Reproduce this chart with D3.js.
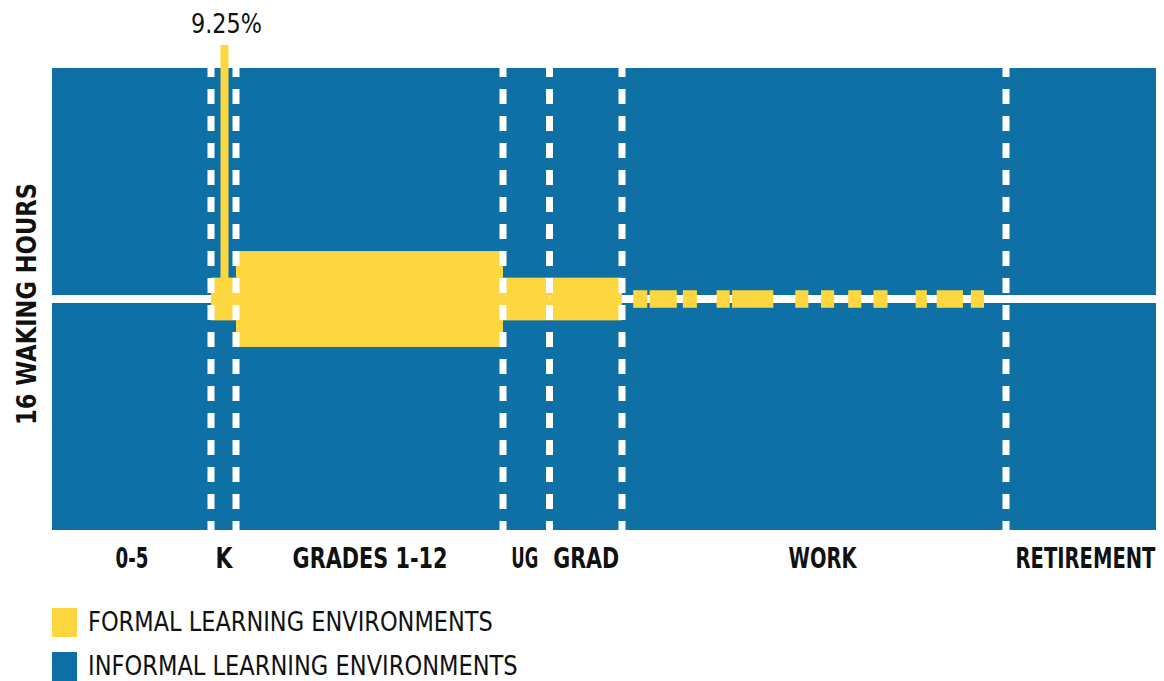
<!DOCTYPE html>
<html>
<head>
<meta charset="utf-8">
<script src="https://cdn.jsdelivr.net/npm/d3@7"></script>
<style>
  body { margin: 0; background: #fff; }
  text { font-family: "DejaVu Sans", "Noto Sans", sans-serif; }
</style>
</head>
<body>
<div id="chart"></div>
<script>
// life stages and the ages where they start / end
const stages = ["0-5", "K", "GRADES 1-12", "UG", "GRAD", "WORK", "RETIREMENT"];
const stageAges = [0, 5, 6, 18, 22, 24, 65, 80];

// share of the 16 waking hours spent in formal learning (%), per stage
const formalShare = [0, 9.25, 20.75, 9.25, 9.25, 0, 0];

// short formal-learning episodes during work (start age, end age)
const workEpisodes = [
    [25.2, 26.7], [26.95, 29.85], [30.5, 32.0], [34.1, 35.5], [35.75, 40.15],
    [42.5, 43.9], [45.25, 46.65], [48.15, 49.55], [50.85, 52.35],
    [55.35, 56.55], [57.6, 60.4], [61.25, 62.65]
];
const workShare = 3.8;

const peakLabel = "9.25%";
const yTitle = "16 WAKING HOURS";
const legendItems = ["FORMAL LEARNING ENVIRONMENTS", "INFORMAL LEARNING ENVIRONMENTS"];

(function () {
    const width = 1164;
    const height = 681;
    const blue = "#0f70a6";
    const yellow = "#fdd740";
    const ink = "#111";

    const svg = d3.select("#chart")
        .append("svg")
        .attr("width", width)
        .attr("height", height);

    // stages are not drawn to a common age scale, so each boundary gets its own spot
    const x = d3.scaleLinear()
        .domain(stageAges)
        .range([52, 211, 236, 503, 549.5, 622, 1006, 1156]);

    const y = d3.scaleLinear()
        .domain([-50, 50])
        .range([530, 68]);

    // the original uses a narrow font; squeeze the installed one sideways to the same width
    function squeeze(node, w, pre) {
        const natural = node.getComputedTextLength();
        d3.select(node).attr("transform", `${pre} scale(${w / natural},1)`);
    }

    // informal background
    svg.append("rect")
        .attr("x", x(0))
        .attr("y", y(50))
        .attr("width", x(80) - x(0))
        .attr("height", y(-50) - y(50))
        .attr("fill", blue);

    // centre line
    svg.append("line")
        .attr("x1", x(0))
        .attr("x2", x(80))
        .attr("y1", y(0))
        .attr("y2", y(0))
        .attr("stroke", "#fff")
        .attr("stroke-width", 8);

    // formal blocks per stage
    const blocks = stages.map((s, i) => ({ stage: s, a0: stageAges[i], a1: stageAges[i + 1], v: formalShare[i] }))
        .filter(d => d.v > 0);

    svg.selectAll(".block")
        .data(blocks)
        .join("rect")
        .attr("class", "block")
        .attr("x", d => x(d.a0))
        .attr("y", d => y(d.v / 2))
        .attr("width", d => x(d.a1) - x(d.a0))
        .attr("height", d => y(-d.v / 2) - y(d.v / 2))
        .attr("fill", yellow);

    svg.selectAll(".episode")
        .data(workEpisodes)
        .join("rect")
        .attr("class", "episode")
        .attr("x", d => x(d[0]))
        .attr("y", y(workShare / 2))
        .attr("width", d => x(d[1]) - x(d[0]))
        .attr("height", y(-workShare / 2) - y(workShare / 2))
        .attr("fill", yellow);

    // spike + label for kindergarten
    const kMid = x((stageAges[1] + stageAges[2]) / 2) + 1;
    svg.append("rect")
        .attr("x", kMid - 4)
        .attr("y", 45)
        .attr("width", 8)
        .attr("height", y(0) - 45)
        .attr("fill", yellow);

    svg.append("text")
        .attr("text-anchor", "middle")
        .style("font-size", "27px")
        .style("fill", ink)
        .text(peakLabel)
        .each(function () { squeeze(this, 71, `translate(${kMid + 2},33)`); });

    // dashed stage separators
    svg.selectAll(".sep")
        .data(stageAges.slice(1, -1))
        .join("line")
        .attr("class", "sep")
        .attr("x1", d => x(d))
        .attr("x2", d => x(d))
        .attr("y1", y(50))
        .attr("y2", y(-50))
        .attr("stroke", "#fff")
        .attr("stroke-width", 7)
        .attr("stroke-dasharray", "15,12")
        .attr("stroke-dashoffset", 6);

    // stage labels
    const nudge = { "UG": -2, "WORK": 8, "RETIREMENT": 4 };
    const labelWidth = { "0-5": 33, "K": 17, "GRADES 1-12": 155, "UG": 27, "GRAD": 66, "WORK": 68, "RETIREMENT": 140 };
    const mids = stages.map((s, i) => (stageAges[i] + stageAges[i + 1]) / 2);
    const axis = svg.append("g")
        .attr("transform", `translate(0,${y(-50)})`)
        .call(d3.axisBottom(x).tickValues(mids).tickSize(0).tickFormat((d, i) => stages[i]));
    axis.select(".domain").remove();
    axis.attr("font-family", null).attr("font-size", null);
    axis.selectAll("text")
        .attr("y", 0)
        .attr("dy", 0)
        .style("font-size", "29px")
        .style("font-weight", "bold")
        .style("fill", ink)
        .each(function (d, i) {
            squeeze(this, labelWidth[stages[i]], `translate(${nudge[stages[i]] || 0},38)`);
        });

    // y title
    svg.append("text")
        .attr("text-anchor", "middle")
        .style("font-size", "27px")
        .style("font-weight", "bold")
        .style("fill", ink)
        .text(yTitle)
        .each(function () { squeeze(this, 242, "translate(36,304) rotate(-90)"); });

    // legend
    const legendWidth = [405, 430];
    const legend = svg.append("g").attr("transform", "translate(52,608)");
    const item = legend.selectAll("g")
        .data(legendItems)
        .join("g")
        .attr("transform", (d, i) => `translate(0,${i * 44})`);
    item.append("rect")
        .attr("width", 25)
        .attr("height", 29)
        .attr("fill", (d, i) => i === 0 ? yellow : blue);
    item.append("text")
        .style("font-size", "26px")
        .style("fill", ink)
        .text(d => d)
        .each(function (d, i) { squeeze(this, legendWidth[i], "translate(36,23)"); });
})();
</script>
</body>
</html>
